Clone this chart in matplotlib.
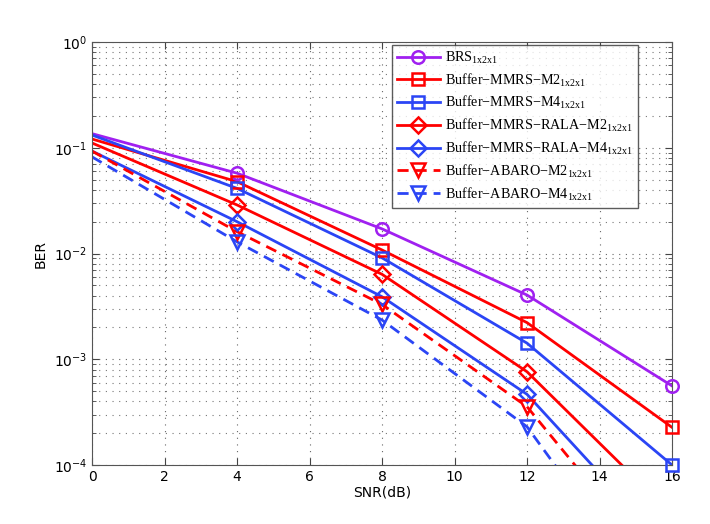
import matplotlib
matplotlib.use("Agg")
import matplotlib.pyplot as plt
from matplotlib.lines import Line2D
from matplotlib.ticker import LogLocator, NullFormatter

snr = [0, 4, 8, 12, 16]

brs = [0.136, 0.0575, 0.0171, 0.00405, 5.6e-4]
mmrs_m2 = [0.121, 0.0478, 0.0108, 0.00222, 2.27e-4]
mmrs_m4 = [0.132, 0.0413, 0.0091, 0.00142, 1.0e-4]
rala_m2 = [0.111, 0.0288, 0.00636, 7.62e-4, 3.4e-5]
rala_m4 = [0.093, 0.0200, 0.0039, 4.66e-4, 1.5e-5]
abaro_m2 = [0.093, 0.0161, 0.0033, 3.56e-4, 7.6e-6]
abaro_m4 = [0.082, 0.0129, 0.00235, 2.3e-4, 3.0e-6]

labels = ["BRS$_{\\mathregular{1x2x1}}$",
          "Buffer\u2212MMRS\u2212M2$_{\\mathregular{1x2x1}}$",
          "Buffer\u2212MMRS\u2212M4$_{\\mathregular{1x2x1}}$",
          "Buffer\u2212MMRS\u2212RALA\u2212M2$_{\\mathregular{1x2x1}}$",
          "Buffer\u2212MMRS\u2212RALA\u2212M4$_{\\mathregular{1x2x1}}$",
          "Buffer\u2212ABARO\u2212M2$_{\\mathregular{1x2x1}}$",
          "Buffer\u2212ABARO\u2212M4$_{\\mathregular{1x2x1}}$"]

purple = "#a020f0"
red = "#ff0000"
blue = "#2b45f5"

series = [brs, mmrs_m2, mmrs_m4, rala_m2, rala_m4, abaro_m2, abaro_m4]
colors = [purple, red, blue, red, blue, red, blue]
markers = ["o", "s", "s", "D", "D", "v", "v"]
msizes = [9, 8, 8, 8, 8, 10, 10]
styles = ["-", "-", "-", "-", "-", "--", "--"]

ymin, ymax = 1e-4, 1

plt.rcParams["mathtext.fontset"] = "custom"
plt.rcParams["mathtext.rm"] = "Liberation Serif"

fig = plt.figure(figsize=(7.1, 5.24), dpi=100)
ax = fig.add_axes([0.1296, 0.1126, 0.8169, 0.8072])

handles = []
for vals, c, m, ms, ls in zip(series, colors, markers, msizes, styles):
    dashes = (4, 2.5) if ls == "--" else None
    line, = ax.semilogy(snr, vals, color=c, linestyle=ls, linewidth=2.0)
    if dashes:
        line.set_dashes(dashes)
    # markers only at the 4 dB steps that fall inside the plotted range
    mx = [x for x, v in zip(snr[1:], vals[1:]) if v >= ymin * 0.999]
    my = [v for v in vals[1:] if v >= ymin * 0.999]
    ax.semilogy(mx, my, color=c, linestyle="none", marker=m, markersize=ms,
                markerfacecolor="none", markeredgewidth=1.8, clip_on=False, zorder=3)
    h = Line2D([], [], color=c, linestyle=ls, linewidth=2.0, marker=m, markersize=ms,
               markerfacecolor="none", markeredgewidth=1.8)
    if dashes:
        h.set_dashes(dashes)
    handles.append(h)

ax.set_xlim(0, 16)
ax.set_ylim(ymin, ymax)
ax.set_xticks(range(0, 17, 2))
ax.yaxis.set_major_locator(LogLocator(base=10, numticks=10))
ax.yaxis.set_minor_locator(LogLocator(base=10, subs=range(2, 10), numticks=10))
ax.yaxis.set_minor_formatter(NullFormatter())

grid_ls = (0, (1, 5))
ax.grid(True, which="major", linestyle=grid_ls, color="#666666", linewidth=0.8)
ax.grid(True, which="minor", axis="y", linestyle=grid_ls, color="#777777", linewidth=0.8)
ax.tick_params(which="both", direction="in", top=True, right=True, labelsize=10,
               colors="#444444", labelcolor="black")
ax.tick_params(which="major", length=5)
ax.tick_params(which="minor", length=3)
for sp in ax.spines.values():
    sp.set_color("#555555")

ax.set_xlabel("SNR(dB)", fontsize=10, labelpad=1)
ax.set_ylabel("BER", fontsize=10, labelpad=4)

leg = ax.legend(handles, labels, loc="upper right", bbox_to_anchor=(0.941, 0.994),
                prop={"family": "Liberation Serif", "size": 10.2},
                frameon=True, fancybox=False, edgecolor="#333333",
                handlelength=3.0, labelspacing=0.38, borderpad=0.35,
                handletextpad=0.4, borderaxespad=0)
leg.get_frame().set_linewidth(1.0)

fig.savefig("out.png", dpi=100)
